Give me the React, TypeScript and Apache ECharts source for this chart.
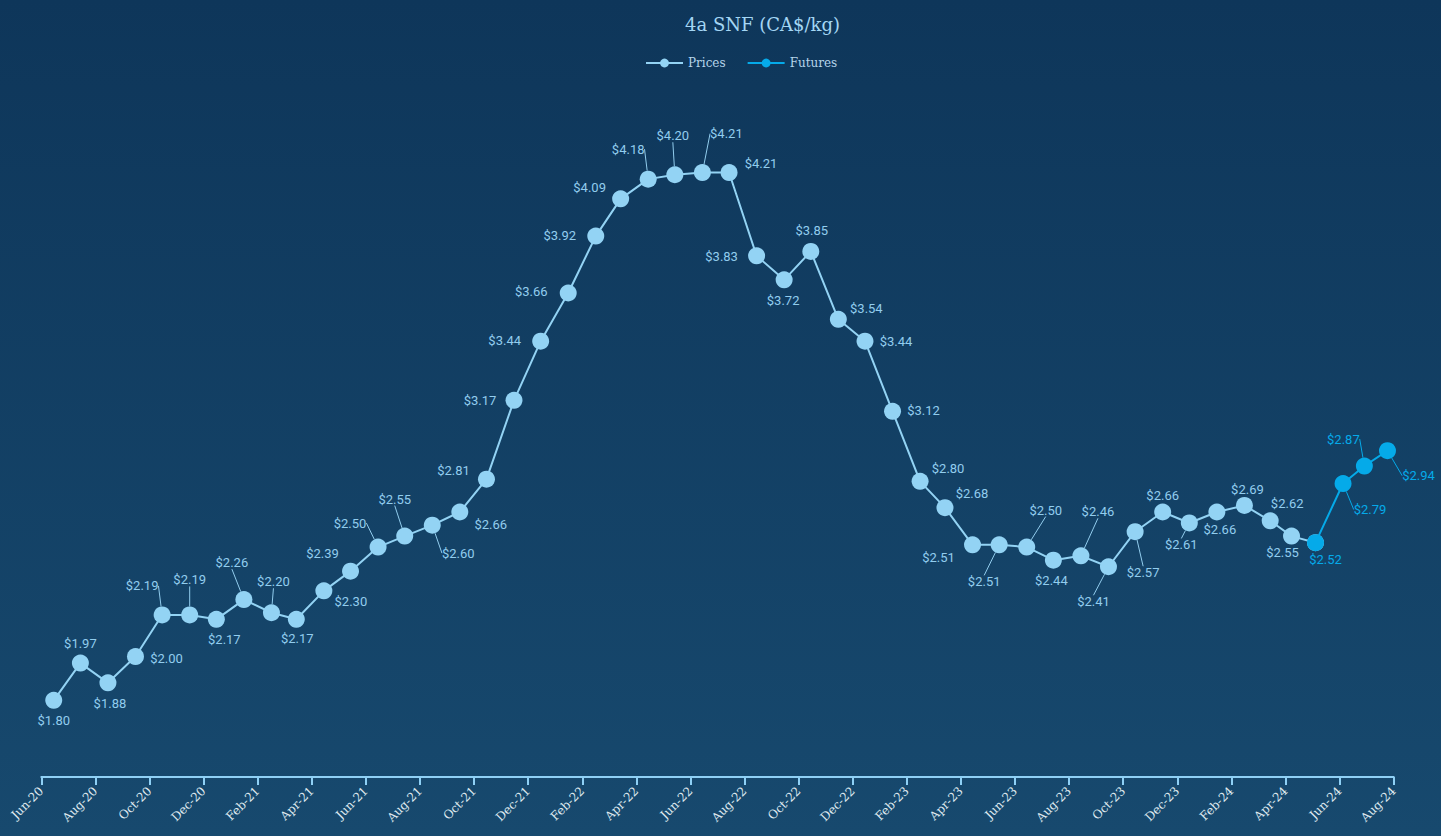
import React, { useEffect, useRef } from "react";
import * as echarts from "echarts";

// Tick labels of the visible month axis (one every two months)
const tickLabels = [
  "Jun-20", "Aug-20", "Oct-20", "Dec-20", "Feb-21", "Apr-21", "Jun-21", "Aug-21",
  "Oct-21", "Dec-21", "Feb-22", "Apr-22", "Jun-22", "Aug-22", "Oct-22", "Dec-22",
  "Feb-23", "Apr-23", "Jun-23", "Aug-23", "Oct-23", "Dec-23", "Feb-24", "Apr-24",
  "Jun-24", "Aug-24",
];

// Dates of the observations (Prices then Futures)
const pointDates = [
  "2020-06-15", "2020-07-15", "2020-08-15", "2020-09-15", "2020-10-15", "2020-11-15",
  "2020-12-15", "2021-01-15", "2021-02-15", "2021-03-15", "2021-04-15", "2021-05-15",
  "2021-06-15", "2021-07-15", "2021-08-15", "2021-09-15", "2021-10-15", "2021-11-15",
  "2021-12-15", "2022-01-15", "2022-02-15", "2022-03-15", "2022-04-15", "2022-05-15",
  "2022-06-15", "2022-07-15", "2022-08-15", "2022-09-15", "2022-10-15", "2022-11-15",
  "2022-12-15", "2023-01-15", "2023-02-15", "2023-03-15", "2023-04-15", "2023-05-15",
  "2023-06-15", "2023-07-15", "2023-08-15", "2023-09-15", "2023-10-15", "2023-11-15",
  "2023-12-15", "2024-01-15", "2024-02-15", "2024-03-15", "2024-04-08", "2024-05-05",
  "2024-06-05", "2024-06-29", "2024-07-25",
];

// 4a SNF prices (CA$/kg)
const priceValues = [
  1.80, 1.97, 1.88, 2.00, 2.19, 2.19, 2.17, 2.26, 2.20, 2.17,
  2.30, 2.39, 2.50, 2.55, 2.60, 2.66, 2.81, 3.17, 3.44, 3.66,
  3.92, 4.09, 4.18, 4.20, 4.21, 4.21, 3.83, 3.72, 3.85, 3.54,
  3.44, 3.12, 2.80, 2.68, 2.51, 2.51, 2.50, 2.44, 2.46, 2.41,
  2.57, 2.66, 2.61, 2.66, 2.69, 2.62, 2.55,
];

// Futures (CA$/kg)
const futureValues = [2.52, 2.79, 2.87, 2.94];

// Label placement (label centre offset from its point, px) — styling only
const labelOffsets: [number, number][] = [
  [0, 20], [0, -20], [2, 21], [31, 2], [-20, -29], [0, -35], [8, 20], [-12, -37], [2, -31], [1, 19],
  [27, 11], [-28, -18], [-28, -24], [-10, -37], [26, 28], [31, 12], [-33, -9], [-34, 0], [-36, -1], [-37, -2],
  [-36, -1], [-31, -11], [-20, -30], [-2, -39], [24, -39], [32, -9], [-35, 1], [-1, 21], [1, -21], [28, -11],
  [31, 0], [31, -1], [28, -13], [27, -14], [-34, 13], [-15, 37], [19, -37], [-2, 20], [17, -44], [-15, 35],
  [8, 41], [0, -17], [-8, 22], [3, 17], [3, -16], [17, -17], [-9, 16],
  [10, 17], [27, 26], [-21, -27], [31, 25],
];
const leaderLines = [4, 5, 7, 8, 12, 13, 14, 22, 23, 24, 35, 36, 38, 39, 40, 42, 48, 49, 50];

const PRICE_COLOR = "#93d3f4";
const PRICE_LABEL = "#92cdee";
const FUT_COLOR = "#05aae9";

export default function App() {
  const ref = useRef<HTMLDivElement>(null);

  useEffect(() => {
    if (!ref.current) return;
    const chart = echarts.init(ref.current, null, { renderer: "svg" });
    const priceCount = priceValues.length;

    const priceData = priceValues.concat([futureValues[0]]).map((v, i) => ({
      value: [pointDates[i], v],
      label: { show: i < priceCount },
      labelLine: { show: leaderLines.includes(i) },
    }));
    const futureData = futureValues.map((v, j) => {
      const i = priceCount + j;
      return {
        value: [pointDates[i], v],
        labelLine: { show: leaderLines.includes(i) },
      };
    });

    const layoutFor = (base: number) => (params: any) => {
      const off = labelOffsets[base + params.dataIndex] || [0, -20];
      return {
        x: params.rect.x + params.rect.width / 2 + off[0],
        y: params.rect.y + params.rect.height / 2 + off[1],
        align: "center",
        verticalAlign: "middle",
      };
    };

    const option: any = {
      animation: false,
      textStyle: { fontFamily: "DejaVu Serif" },
      title: {
        text: "4a SNF (CA$/kg)",
        left: 680,
        top: 10,
        textStyle: {
          fontFamily: "DejaVu Serif",
          fontSize: 18,
          fontWeight: "normal",
          color: "#a4d6f4",
        },
      },
      legend: {
        top: 52,
        left: 640,
        itemWidth: 37,
        itemHeight: 11,
        itemGap: 21,
        textStyle: { fontFamily: "DejaVu Serif", fontSize: 12, color: "#b5d4ea" },
        data: ["Prices", "Futures"],
      },
      grid: {
        left: 41.3,
        right: 47.3,
        top: 87.15,
        bottom: 59,
        containLabel: false,
        outerBoundsMode: "none",
      },
      xAxis: [
        {
          type: "time",
          min: "2020-06-01",
          max: "2024-08-01",
          show: false,
        },
        {
          type: "value",
          min: 0,
          max: 50,
          interval: 2,
          position: "bottom",
          axisLine: { show: true, lineStyle: { color: "#8fd0f5", width: 2 } },
          axisTick: { show: true, length: 8, lineStyle: { color: "#8fd0f5", width: 2 } },
          splitLine: { show: false },
          axisLabel: {
            rotate: 45,
            margin: 12,
            showMinLabel: true,
            showMaxLabel: true,
            fontFamily: "DejaVu Serif",
            fontSize: 12,
            color: "#dfe8ef",
            formatter: (v: number) => tickLabels[Math.round(v / 2)] || "",
          },
        },
      ],
      yAxis: {
        type: "value",
        min: 1.45,
        max: 4.6,
        show: false,
        splitLine: { show: false },
      },
      series: [
        {
          name: "Prices",
          type: "line",
          xAxisIndex: 0,
          data: priceData,
          symbol: "circle",
          symbolSize: 17,
          lineStyle: { color: PRICE_COLOR, width: 2 },
          itemStyle: { color: PRICE_COLOR },
          label: {
            show: true,
            fontFamily: "Roboto",
            fontSize: 13,
            color: PRICE_LABEL,
            formatter: (p: any) => "$" + Number(p.value[1]).toFixed(2),
          },
          labelLine: { show: false, lineStyle: { color: PRICE_LABEL, width: 1 } },
          labelLayout: layoutFor(0),
          z: 2,
        },
        {
          name: "Futures",
          type: "line",
          xAxisIndex: 0,
          data: futureData,
          symbol: "circle",
          symbolSize: 17,
          lineStyle: { color: FUT_COLOR, width: 2 },
          itemStyle: { color: FUT_COLOR },
          label: {
            show: true,
            fontFamily: "Roboto",
            fontSize: 13,
            color: FUT_COLOR,
            formatter: (p: any) => "$" + Number(p.value[1]).toFixed(2),
          },
          labelLine: { show: false, lineStyle: { color: FUT_COLOR, width: 1 } },
          labelLayout: layoutFor(priceCount),
          z: 3,
        },
      ],
    };

    chart.setOption(option);
    return () => chart.dispose();
  }, []);

  return (
    <div
      style={{
        position: "fixed",
        left: 0,
        top: 0,
        width: 1441,
        height: 836,
        background: "linear-gradient(180deg, #0e365a 0%, #17496e 100%)",
      }}
    >
      <div ref={ref} style={{ width: 1441, height: 836 }} />
    </div>
  );
}
